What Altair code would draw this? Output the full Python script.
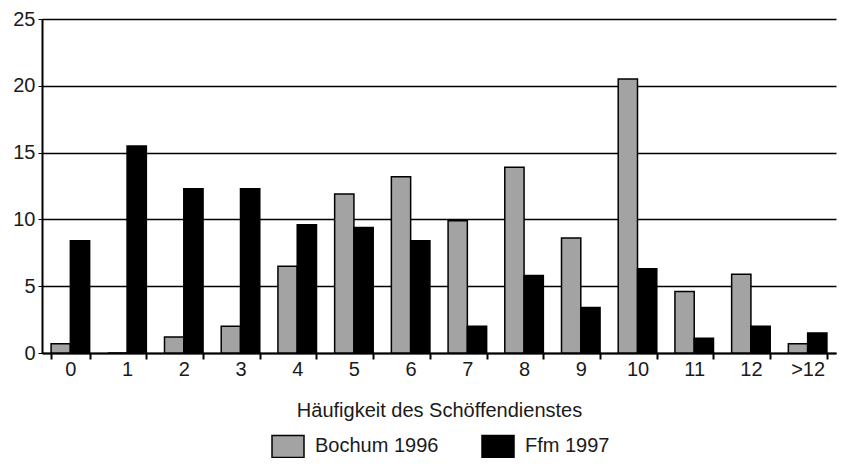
import altair as alt
import pandas as pd

categories = ["0", "1", "2", "3", "4", "5", "6", "7", "8", "9", "10", "11", "12", ">12"]
bochum_1996 = [0.7, 0.0, 1.2, 2.0, 6.5, 11.9, 13.2, 9.9, 13.9, 8.6, 20.5, 4.6, 5.9, 0.7]
ffm_1997 = [8.4, 15.5, 12.3, 12.3, 9.6, 9.4, 8.4, 2.0, 5.8, 3.4, 6.3, 1.1, 2.0, 1.5]
series = ["Bochum 1996", "Ffm 1997"]

rows = []
for i, c in enumerate(categories):
    rows.append({"cat": c, "series": series[0], "value": bochum_1996[i]})
    rows.append({"cat": c, "series": series[1], "value": ffm_1997[i]})
df = pd.DataFrame(rows)

FONT = "Liberation Sans"
TXT = "#1a1a1a"

chart = alt.Chart(df).mark_bar(stroke="black", strokeWidth=1.5).encode(
    x=alt.X("cat:N", sort=categories,
            scale=alt.Scale(paddingInner=0.32, paddingOuter=0.16),
            axis=alt.Axis(title="Häufigkeit des Schöffendienstes", labelAngle=0,
                          tickBand="extent", tickSize=6, tickWidth=2, tickColor="black",
                          domainColor="black", domainWidth=2,
                          labelFontSize=20, labelColor=TXT, labelPadding=0,
                          titleFontSize=20, titleFontWeight="normal", titleColor=TXT,
                          titlePadding=21, labelFont=FONT, titleFont=FONT)),
    xOffset=alt.XOffset("series:N", sort=series, scale=alt.Scale(paddingInner=0, paddingOuter=0)),
    y=alt.Y("value:Q", scale=alt.Scale(domain=[0, 25]),
            axis=alt.Axis(title=None, values=[0, 5, 10, 15, 20, 25], grid=True,
                          gridColor="black", gridWidth=1.5, tickSize=4, tickColor="black",
                          domainColor="black", domainWidth=2, labelFontSize=20,
                          labelColor=TXT, labelPadding=3, labelFont=FONT)),
    color=alt.Color("series:N", sort=series,
                    scale=alt.Scale(domain=series, range=["#a3a3a3", "black"]),
                    legend=alt.Legend(title=None, orient="none", legendX=229, legendY=410,
                                      direction="horizontal",
                                      symbolType="M-1,-0.69L1,-0.69L1,0.69L-1,0.69Z",
                                      symbolSize=1024, symbolStrokeColor="black",
                                      symbolStrokeWidth=1.5, labelFontSize=20,
                                      labelColor=TXT, labelFont=FONT,
                                      columnPadding=40, symbolOffset=0, labelOffset=10)),
).properties(
    width=794, height=334,
    autosize=alt.AutoSizeParams(type="none"),
    padding={"left": 34, "top": 11, "right": 1, "bottom": 105},
).configure_view(stroke=None)

chart.save("out.html", embed_options={"renderer": "svg", "actions": False})
